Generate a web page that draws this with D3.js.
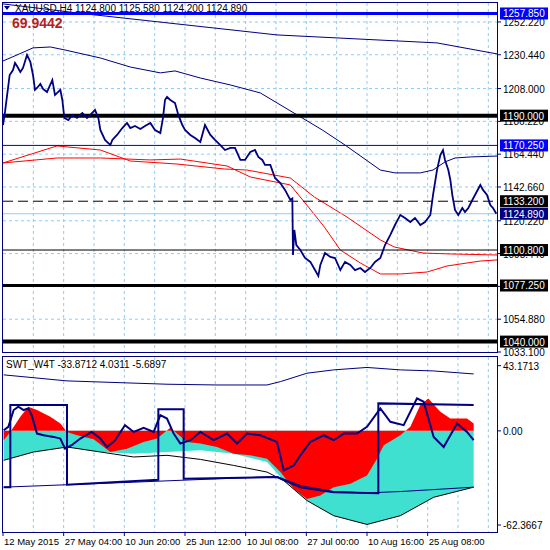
<!DOCTYPE html>
<html><head><meta charset="utf-8">
<script src="https://cdn.jsdelivr.net/npm/d3@7"></script>
<style>body{margin:0;background:#fff}svg{display:block;font-family:"Liberation Sans",Arial,sans-serif}</style>
</head><body><div id="chart"></div>
<script>
// bar index (H4 bars) , value
var price = [[0,1183.8],[3,1192.5],[10,1217.0],[15,1220.3],[18,1225.0],[21,1223.0],[26,1219.0],[30,1221.7],[36,1230.3],[41,1225.7],[45,1217.0],[48,1207.1],[51,1208.4],[56,1211.1],[60,1207.7],[66,1205.7],[74,1213.7],[78,1203.7],[86,1207.1],[89,1200.4],[92,1188.5],[98,1187.1],[104,1190.5],[111,1188.5],[119,1191.8],[126,1188.5],[131,1190.5],[138,1193.8],[143,1188.5],[146,1180.5],[153,1173.9],[161,1170.5],[164,1173.9],[171,1177.2],[179,1181.8],[186,1185.2],[191,1181.8],[198,1183.2],[206,1181.2],[213,1183.2],[221,1185.2],[228,1180.5],[236,1178.5],[240,1188.5],[243,1200.4],[246,1202.4],[251,1200.4],[258,1198.4],[263,1190.5],[269,1183.8],[273,1180.5],[281,1177.2],[288,1175.2],[296,1172.5],[303,1183.8],[311,1177.2],[318,1173.9],[326,1170.5],[333,1167.2],[341,1168.6],[348,1168.6],[356,1160.6],[363,1160.6],[371,1165.9],[378,1167.2],[383,1162.6],[389,1160.6],[393,1157.3],[401,1157.3],[408,1148.6],[416,1145.3],[423,1140.7],[431,1134.0],[434,1135.0],[435,1097.5],[437,1114.1],[440,1104.1],[446,1100.8],[453,1095.5],[461,1092.9],[468,1087.5],[473,1083.6],[476,1090.9],[483,1098.8],[491,1096.2],[498,1095.5],[506,1087.5],[513,1092.9],[521,1090.9],[528,1087.5],[536,1088.9],[543,1086.2],[551,1088.9],[558,1092.9],[566,1095.5],[573,1104.1],[581,1110.8],[588,1117.4],[596,1124.1],[603,1122.1],[611,1119.4],[618,1122.1],[626,1117.4],[633,1119.4],[641,1124.1],[645,1137.3],[651,1153.9],[656,1163.9],[660,1167.2],[663,1160.6],[668,1153.9],[671,1147.3],[674,1137.3],[678,1127.4],[683,1124.1],[689,1128.7],[693,1126.1],[698,1128.7],[704,1134.0],[708,1137.3],[716,1144.0],[720,1140.7],[726,1137.3],[731,1130.7],[735,1128.7],[740,1124.9]];
var maSlow = [[0,1264.2],[111,1258.2],[411,1243.6],[651,1238.3],[741,1231.0]];
var maMid = [[0,1226.3],[21,1230.3],[45,1235.0],[71,1235.6],[93,1233.6],[146,1228.3],[191,1222.3],[236,1218.4],[258,1219.7],[296,1215.0],[341,1210.4],[386,1205.1],[479,1180.5],[513,1170.5],[566,1153.9],[588,1152.0],[626,1152.0],[645,1153.9],[663,1159.3],[678,1161.9],[701,1162.6],[741,1163.2]];
var redA = [[0,1158.6],[81,1169.9],[146,1167.2],[191,1159.9],[261,1157.9],[332,1154.6],[366,1153.9],[431,1148.6],[467,1136.0],[516,1122.7],[566,1107.5],[587,1102.8],[630,1098.8],[671,1098.2],[741,1097.5]];
var redB = [[0,1158.6],[81,1161.9],[146,1161.9],[221,1160.6],[266,1161.2],[336,1156.6],[371,1149.3],[431,1144.0],[452,1132.7],[482,1116.1],[506,1100.8],[536,1092.2],[566,1084.9],[596,1084.9],[636,1086.2],[666,1090.2],[716,1093.5],[741,1094.2]];
var levels = [
  {v:1257.85, c:"#0000ff", w:3, bg:"#0000ff"},
  {v:1190.00, c:"#000000", w:4, bg:"#000000"},
  {v:1170.25, c:"#0000cd", w:1, bg:"#0000ff"},
  {v:1133.20, c:"#000000", w:1, bg:"#000000", dash:"10,5"},
  {v:1124.89, c:"#87cefa", w:1, bg:"#000080"},
  {v:1100.80, c:"#000000", w:1, bg:"#000000"},
  {v:1077.25, c:"#000000", w:3, bg:"#000000"},
  {v:1040.00, c:"#000000", w:4, bg:"#000000"}];
var priceTicks = [1252.22,1230.44,1208.00,1186.22,1164.44,1142.66,1120.22,1098.44,1076.66,1054.88,1033.10];

// indicator (SWT_W4T)
var indTop = [[1,37.1],[96,33.1],[246,30.9],[321,30.4],[396,30.4],[416,32.6],[456,38.2],[496,40.4],[546,42.0],[596,40.4],[646,39.7],[706,37.7]];
var indEnv = [[1,-37.3],[196,-34.0],[411,-30.2],[446,-36.2],[496,-40.2],[546,-41.1],[596,-40.2],[646,-38.9],[706,-37.3]];
var indStep = [[1,-37.3],[11,-37.3],[11,17.1],[96,17.1],[96,-35.7],[233,-32.4],[233,14.4],[271,14.4],[271,-31.7],[411,-30.6],[446,-37.3],[496,-40.6],[563,-41.3],[563,18.2],[706,17.1]];
var indBlack = [[1,-19.5],[46,-14.0],[96,-10.7],[146,-14.0],[196,-17.3],[246,-16.2],[296,-18.9],[346,-22.9],[396,-27.3],[421,-32.9],[456,-46.2],[496,-56.2],[546,-62.0],[596,-56.2],[646,-44.0],[706,-37.3]];
var indTeal = [[1,-19.5],[46,-14.0],[96,-10.7],[146,-14.0],[196,-15.1],[246,-14.0],[296,-12.9],[346,-15.1],[396,-20.6],[421,-32.9],[456,-46.2],[496,-56.2],[546,-62.0],[596,-56.2],[646,-44.0],[706,-37.3]];
var indRed = [[1,-6.2],[11,-0.7],[26,9.3],[38,16.0],[51,13.8],[71,9.3],[86,4.9],[96,-0.7],[111,-2.9],[136,-5.6],[161,-14.0],[186,-11.8],[211,-7.3],[231,-5.1],[251,2.0],[261,-1.8],[276,-7.3],[296,-8.4],[321,-10.7],[346,-15.1],[371,-16.2],[396,-18.4],[416,-27.3],[436,-38.4],[456,-45.1],[476,-42.8],[496,-37.3],[521,-35.1],[546,-29.5],[561,-18.4],[571,-9.5],[596,-2.9],[611,2.7],[626,17.1],[638,21.5],[656,12.7],[671,8.2],[696,8.2],[706,4.9]];
var indOsc = [[1,0.4],[8,2.7],[16,13.8],[23,16.0],[31,13.8],[38,14.9],[43,10.4],[51,-1.8],[61,-2.9],[76,-4.0],[86,-5.1],[93,-11.8],[103,-9.5],[116,-5.1],[133,-0.7],[146,-5.1],[156,-10.7],[168,-6.2],[183,3.8],[196,-0.7],[211,2.0],[226,-0.7],[236,10.4],[246,8.2],[256,-1.8],[266,-8.4],[281,-6.2],[296,-0.7],[316,-6.2],[336,-1.8],[351,-8.4],[366,-1.8],[386,-2.9],[411,-7.3],[421,-26.2],[436,-22.9],[446,-16.2],[461,-7.3],[481,-2.9],[496,-6.2],[511,-1.8],[531,-1.8],[546,2.7],[566,14.9],[581,6.0],[601,3.8],[621,21.5],[631,19.3],[646,-4.0],[661,-10.7],[681,4.9],[696,-0.7],[706,-6.2]];
var indTicks = [43.1713, 0, -62.3667];

var dateLabels = ["12 May 2015","27 May 04:00","10 Jun 20:00","25 Jun 12:00","10 Jul 08:00","27 Jul 00:00","10 Aug 16:00","25 Aug 08:00"];
var dateBars = [0,91,182,273,364,455,546,637];

var W = 550, H = 550;
var svg = d3.select("#chart").append("svg").attr("width", W).attr("height", H);
var x = d3.scaleLinear().domain([0, 741]).range([3, 497]);
var y = d3.scaleLinear().domain([1033.1, 1264.8]).range([352, 3]);
var yi = d3.scaleLinear().domain([-62.3667, 43.1713]).range([525, 365.7]);
var grid = "#87cefa";

svg.append("defs").append("clipPath").attr("id","cm").append("rect").attr("x",3).attr("y",3).attr("width",494).attr("height",349);
svg.select("defs").append("clipPath").attr("id","ci").append("rect").attr("x",3).attr("y",357).attr("width",494).attr("height",175);

// vertical grid
var vg = d3.range(1, 17).map(i => i * 45.5);
[[3,352],[357,532]].forEach(r => {
  svg.append("g").selectAll("line").data(vg).enter().append("line")
    .attr("x1", d => x(d)).attr("x2", d => x(d)).attr("y1", r[0]).attr("y2", r[1])
    .attr("stroke", grid).attr("stroke-dasharray", "3,3");
});
// horizontal grid main
svg.append("g").selectAll("line").data(priceTicks.slice(0, -1)).enter().append("line")
  .attr("x1", 3).attr("x2", 497).attr("y1", d => y(d)).attr("y2", d => y(d))
  .attr("stroke", grid).attr("stroke-dasharray", "3,3");

var main = svg.append("g").attr("clip-path", "url(#cm)");
var line = d3.line().x(d => x(d[0])).y(d => y(d[1]));
main.append("path").attr("d", line(maSlow)).attr("fill","none").attr("stroke","#000080").attr("stroke-width",1);
main.append("path").attr("d", line(maMid)).attr("fill","none").attr("stroke","#000080").attr("stroke-width",1);
main.append("path").attr("d", line(redA)).attr("fill","none").attr("stroke","#ff0000").attr("stroke-width",1);
main.append("path").attr("d", line(redB)).attr("fill","none").attr("stroke","#ff0000").attr("stroke-width",1);
levels.forEach(l => {
  main.append("line").attr("x1",3).attr("x2",497).attr("y1",y(l.v)).attr("y2",y(l.v))
    .attr("stroke",l.c).attr("stroke-width",l.w).attr("stroke-dasharray",l.dash || null);
});
main.append("path").attr("d", line(price)).attr("fill","none").attr("stroke","#000080").attr("stroke-width",1.8);

// indicator
var ind = svg.append("g").attr("clip-path", "url(#ci)");
var area = d3.area().x(d => x(d[0])).y0(yi(0)).y1(d => yi(d[1]));
var iline = d3.line().x(d => x(d[0])).y(d => yi(d[1]));
ind.append("path").attr("d", area(indTeal)).attr("fill","#40e0d0");
ind.append("path").attr("d", area(indRed)).attr("fill","#ff0000");
ind.append("path").attr("d", iline(indBlack)).attr("fill","none").attr("stroke","#000").attr("stroke-width",1);
ind.append("path").attr("d", iline(indTop)).attr("fill","none").attr("stroke","#000080").attr("stroke-width",1);
ind.append("path").attr("d", iline(indEnv)).attr("fill","none").attr("stroke","#000080").attr("stroke-width",1);
ind.append("path").attr("d", iline(indStep)).attr("fill","none").attr("stroke","#000080").attr("stroke-width",2);
ind.append("path").attr("d", iline(indOsc)).attr("fill","none").attr("stroke","#000080").attr("stroke-width",2);

// frames
svg.append("rect").attr("x",2.5).attr("y",2.5).attr("width",495).attr("height",350).attr("fill","none").attr("stroke","#000080");
svg.append("rect").attr("x",2.5).attr("y",356.5).attr("width",495).attr("height",176).attr("fill","none").attr("stroke","#000080");

// right axis main
var ra = svg.append("g").attr("font-size", 10);
priceTicks.forEach(t => {
  ra.append("line").attr("x1",497).attr("x2",501).attr("y1",y(t)).attr("y2",y(t)).attr("stroke","#000080");
  ra.append("text").attr("x",503).attr("y",y(t)+4).text(t.toFixed(3));
});
levels.forEach(l => {
  ra.append("rect").attr("x",500).attr("y",y(l.v)-6).attr("width",48).attr("height",12).attr("fill",l.bg);
  ra.append("text").attr("x",503).attr("y",y(l.v)+4).attr("fill","#fff").text(l.v.toFixed(3));
});
indTicks.forEach(t => {
  ra.append("line").attr("x1",497).attr("x2",501).attr("y1",yi(t)).attr("y2",yi(t)).attr("stroke","#000080");
  ra.append("text").attr("x",503).attr("y",yi(t)+4).text(t === 0 ? "0.00" : t.toFixed(4));
});

// date axis
var da = svg.append("g").attr("font-size", 9.5);
dateBars.forEach((b, i) => {
  da.append("line").attr("x1",x(b)).attr("x2",x(b)).attr("y1",532).attr("y2",536).attr("stroke","#000080");
  da.append("text").attr("x",x(b)+1).attr("y",545).text(dateLabels[i]);
});

// titles
svg.append("path").attr("d","M4,6 L10,6 L7,10 Z").attr("fill","#000080");
svg.append("text").attr("x",15).attr("y",12).attr("font-size",10).text("XAUUSD,H4  1124.800 1125.580 1124.200 1124.890");
svg.append("text").attr("x",12).attr("y",28).attr("font-size",14).attr("font-weight","bold").attr("fill","#b22222").text("69.9442");
svg.append("text").attr("x",6).attr("y",368).attr("font-size",10).text("SWT_W4T -33.8712 4.0311 -5.6897");
</script></body></html>
